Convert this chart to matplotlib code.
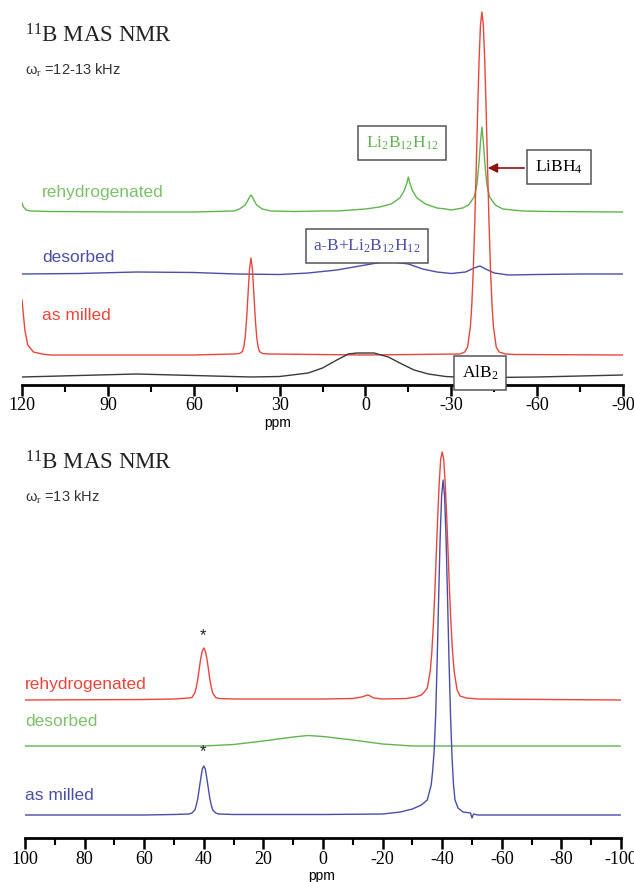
import matplotlib
matplotlib.use("Agg")
import matplotlib.pyplot as plt
from matplotlib.patches import FancyArrowPatch
from matplotlib.ticker import MultipleLocator

plt.rcParams["mathtext.fontset"] = "custom"
plt.rcParams["mathtext.rm"] = "Liberation Serif"
plt.rcParams["mathtext.it"] = "Liberation Serif:italic"
plt.rcParams["mathtext.bf"] = "Liberation Serif:bold"

W, H = 634, 882
SERIF = "Liberation Serif"
SANS = "Liberation Sans"

GREEN = "#62b34f"
GREEN_TXT = "#7cc16a"
BLUE = "#4a4ea6"
RED = "#e8463c"
BLACK = "#3a3a3a"
ARROW = "#8a1414"

# ---- top panel: spectra (ppm, intensity above own baseline) ----
top_rehyd_ppm = [120, 119.5, 118.5, 117, 110, 80, 60, 46, 44, 42, 41, 40.5, 40, 39.5, 39, 38, 36,
                 33, 25, 15, 10, 5, 0, -5, -9, -12, -13.5, -14.5, -15, -15.5, -16.5, -18, -21,
                 -25, -28, -30, -34, -36, -38, -39, -39.7, -40.2, -40.7, -41.2, -41.7, -42.4,
                 -43.4, -45.4, -48, -55, -65, -90]
top_rehyd_int = [9, 5, 2, 1, 0.5, 0, 0, 1, 3, 7, 12, 15, 17, 15, 12, 7, 3,
                 1, 0.5, 1, 1, 2, 3, 5, 8, 14, 21, 29, 35, 29, 21, 14, 8,
                 4, 3, 2, 4, 7, 15, 28, 50, 70, 85, 70, 50, 28,
                 15, 7, 3, 1, 0.5, 0]

top_desorb_ppm = [120, 100, 80, 60, 45, 30, 20, 10, 0, -5, -10, -15, -20, -25, -30, -35, -38,
                  -40, -42, -45, -50, -60, -75, -90]
top_desorb_int = [0, 0.5, 2, 1.5, 0, -0.5, 1, 4, 9, 11.5, 12, 10, 5, 2, 0.5, 2, 6,
                  8, 5, 1, -1, -0.5, 0, 0]

top_milled_ppm = [120, 119, 118, 116, 113, 110, 60, 46, 44, 43, 42.5, 42, 41.5, 41, 40.5, 40,
                  39.5, 39, 38.5, 38, 37.5, 37, 36, 34, 0, -33, -34.7, -35.7, -36.7, -37.2,
                  -37.7, -38.2, -38.7, -39.2, -39.7, -40.2, -40.7, -41.2, -41.7, -42.2, -42.7,
                  -43.2, -43.7, -44.2, -44.7, -45.7, -46.7, -49, -52, -90]
top_milled_int = [55, 25, 10, 3, 1, 0, 0, 1, 1.5, 3.5, 8, 18, 37, 62, 86, 97,
                  86, 62, 37, 18, 8, 3.5, 1.5, 1, 0, 1, 3, 8, 29, 52,
                  86, 131, 185, 243, 294, 330, 343, 330, 294, 243, 185,
                  131, 86, 52, 29, 8, 3, 1, 0.5, 0]

top_alb2_ppm = [120, 100, 80, 60, 40, 30, 20, 15, 10, 6, 3, -3, -8, -12, -17, -22, -28, -35,
                -45, -60, -75, -90]
top_alb2_int = [0, 1.5, 3, 1.5, 0, 0.5, 4, 9, 17, 23, 24, 24, 20, 14, 7, 3, 0.5, -0.5,
                -0.5, 0, 1, 2]

# ---- bottom panel ----
bot_rehyd_ppm = [100, 60, 50, 45, 44, 43, 42.5, 42, 41.5, 41, 40.5, 40, 39.5, 39, 38.5, 38,
                 37.5, 37, 36, 35, 30, 20, 0, -10, -13, -14.5, -15, -15.5, -17, -20, -28, -31,
                 -33, -34, -35, -36, -36.5, -37, -37.5, -38, -38.5, -39, -39.5, -40, -40.5,
                 -41, -41.5, -42, -42.5, -43, -43.5, -44, -45, -46, -48, -52, -100]
bot_rehyd_int = [0, 0.5, 1, 2, 2.5, 7, 13, 21, 32, 42, 49, 52, 49, 42, 32, 21,
                 13, 7, 2.5, 1.5, 1, 1, 1, 1.5, 3, 4.5, 5, 4.5, 2, 1, 1.5, 3,
                 5, 8, 12, 29, 47, 73, 106, 145, 184, 217, 241, 248, 241,
                 217, 184, 145, 106, 73, 47, 29, 10, 4, 2, 1, 0]

bot_desorb_ppm = [100, 50, 40, 30, 20, 10, 5, 0, -10, -20, -30, -100]
bot_desorb_int = [0, 0, 0, 1.5, 5, 9, 10.5, 9.5, 6, 2, 0, 0]

bot_milled_ppm = [100, 60, 50, 45, 44, 43, 42.5, 42, 41.5, 41, 40.5, 40, 39.5, 39, 38.5, 38,
                  37.5, 37, 36, 35, 30, 0, -20, -26, -30, -33, -35, -36.3, -36.8, -37.3, -37.8,
                  -38.3, -38.8, -39.3, -39.8, -40.3, -40.8, -41.3, -41.8, -42.3, -42.8, -43.3,
                  -43.8, -44.3, -45.3, -47, -49.5, -50, -50.5, -52, -100]
bot_milled_int = [0, 0, 0.5, 1, 2, 5, 10, 17, 27, 37, 46, 49, 46, 37, 27, 17,
                  10, 5, 2, 1, 0.5, 0.5, 1, 3, 6, 10, 15, 30, 44, 64, 99,
                  153, 216, 276, 319, 335, 319, 276, 216, 153, 99, 58,
                  30, 15, 7, 3, 2, -3, 1, 0, 0]

# baselines, in pixels above the axis line
top_offsets = {"rehyd": 173, "desorb": 111, "milled": 30, "alb2": 8}
bot_offsets = {"rehyd": 138, "desorb": 92, "milled": 23}

fig = plt.figure(figsize=(W / 100, H / 100), dpi=100)


def fpos(x, y):
    return x / W, 1 - y / H


def style_axis(ax, lo, hi, minor, ymax, ticks):
    ax.set_xlim(lo, hi)
    ax.set_ylim(0, ymax)
    for s in ("top", "left", "right"):
        ax.spines[s].set_visible(False)
    ax.spines["bottom"].set_linewidth(2)
    ax.set_yticks([])
    ax.set_xticks(ticks)
    ax.set_xticklabels([str(t) for t in ticks], fontfamily=SERIF)
    ax.xaxis.set_minor_locator(MultipleLocator(minor))
    ax.tick_params(axis="x", which="major", direction="out", length=8, width=1.8,
                   labelsize=13, pad=1)
    ax.tick_params(axis="x", which="minor", direction="out", length=5, width=1.5)
    ax.patch.set_alpha(0)


# top panel: axis line at y=385 px, top at 0
ax1 = fig.add_axes([22 / W, 1 - 385 / H, (623 - 22) / W, 385 / H])
style_axis(ax1, 120, -90, 15, 385, [120, 90, 60, 30, 0, -30, -60, -90])
ax1.plot(top_rehyd_ppm, [v + top_offsets["rehyd"] for v in top_rehyd_int], color=GREEN, lw=1.0)
ax1.plot(top_desorb_ppm, [v + top_offsets["desorb"] for v in top_desorb_int], color=BLUE, lw=1.0)
ax1.plot(top_milled_ppm, [v + top_offsets["milled"] for v in top_milled_int], color=RED, lw=1.0)
ax1.plot(top_alb2_ppm, [v + top_offsets["alb2"] for v in top_alb2_int], color=BLACK, lw=1.0)

# bottom panel: axis line at y=838 px, top at 440
ax2 = fig.add_axes([25 / W, 1 - 838 / H, (621 - 25) / W, (838 - 440) / H])
style_axis(ax2, 100, -100, 10, 398, [100, 80, 60, 40, 20, 0, -20, -40, -60, -80, -100])
ax2.plot(bot_desorb_ppm, [v + bot_offsets["desorb"] for v in bot_desorb_int], color=GREEN, lw=1.0)
ax2.plot(bot_rehyd_ppm, [v + bot_offsets["rehyd"] for v in bot_rehyd_int], color=RED, lw=1.0)
ax2.plot(bot_milled_ppm, [v + bot_offsets["milled"] for v in bot_milled_int], color=BLUE, lw=1.0)

# titles
fig.text(*fpos(25, 36), "$^{11}$B MAS NMR", family=SERIF, fontsize=16.5, va="center", ha="left",
         color="#222222")
fig.text(*fpos(25, 70), "ω$_\\mathrm{r}$ =12-13 kHz", family=SANS, fontsize=10.5, va="center",
         color="#333333")
fig.text(*fpos(25, 463), "$^{11}$B MAS NMR", family=SERIF, fontsize=16.5, va="center", ha="left",
         color="#222222")
fig.text(*fpos(25, 497), "ω$_\\mathrm{r}$ =13 kHz", family=SANS, fontsize=10.5, va="center",
         color="#333333")

# trace labels
fig.text(*fpos(42, 192), "rehydrogenated", family=SANS, fontsize=12.5, color=GREEN_TXT, va="center")
fig.text(*fpos(42, 257), "desorbed", family=SANS, fontsize=12.5, color=BLUE, va="center")
fig.text(*fpos(42, 316), "as milled", family=SANS, fontsize=12.5, color=RED, va="center")
fig.text(*fpos(25, 684), "rehydrogenated", family=SANS, fontsize=12.5, color=RED, va="center")
fig.text(*fpos(25, 722), "desorbed", family=SANS, fontsize=12.5, color=GREEN_TXT, va="center")
fig.text(*fpos(25, 795), "as milled", family=SANS, fontsize=12.5, color=BLUE, va="center")

# boxed compound labels
box = dict(boxstyle="square,pad=0.45", fc="white", ec="#555555", lw=1.1)
fig.text(*fpos(402, 143), r"Li$_2$B$_{12}$H$_{12}$", family=SERIF, fontsize=12.5,
         color=GREEN, ha="center", va="center", bbox=box)
fig.text(*fpos(559, 167), r"LiBH$_4$", family=SERIF, fontsize=12.5,
         color="black", ha="center", va="center", bbox=box)
fig.text(*fpos(367, 246), r"a-B+Li$_2$B$_{12}$H$_{12}$", family=SERIF, fontsize=12.5,
         color=BLUE, ha="center", va="center", bbox=box)
fig.text(*fpos(480, 373), r"AlB$_2$", family=SERIF, fontsize=12.5,
         color="black", ha="center", va="center", bbox=box)
fig.patches.append(FancyArrowPatch(
    fpos(527, 168), fpos(485, 168), transform=fig.transFigure, arrowstyle="-|>",
    mutation_scale=14, color=ARROW, lw=1.2))

# asterisks
fig.text(*fpos(203, 636), "*", family=SANS, fontsize=12, ha="center", va="center", color="#222222")
fig.text(*fpos(203, 752), "*", family=SANS, fontsize=12, ha="center", va="center", color="#222222")

# axis titles
fig.text(*fpos(278, 423), "ppm", family=SANS, fontsize=10, ha="center", va="center")
fig.text(*fpos(322, 876), "ppm", family=SANS, fontsize=10, ha="center", va="center")

fig.savefig("out.png", dpi=100)
